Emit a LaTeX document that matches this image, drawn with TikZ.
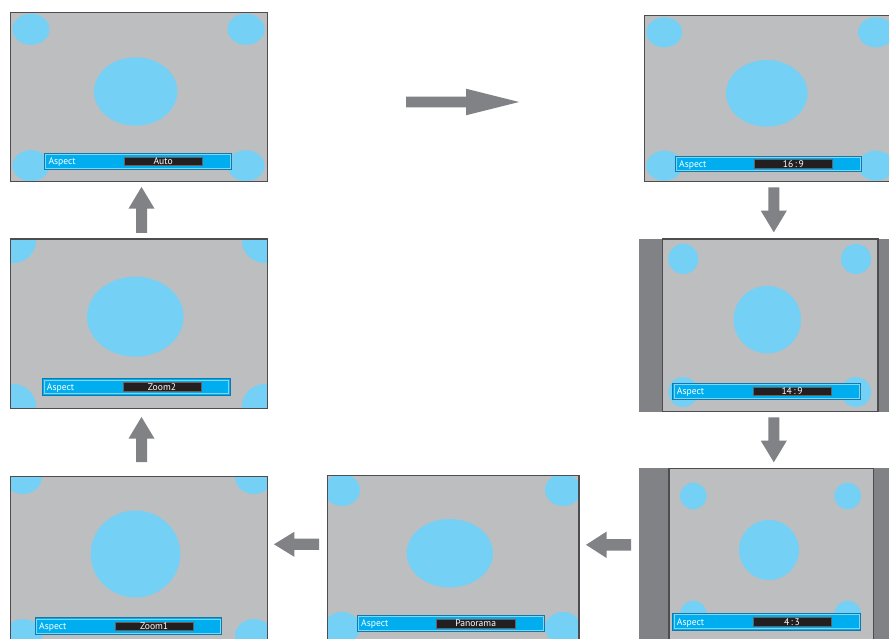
\documentclass[tikz,border=0pt]{standalone}
\usepackage{fontspec}
\setmainfont{PT Sans}
\usetikzlibrary{calc}
\definecolor{screengray}{RGB}{188,190,192}
\definecolor{framegray}{RGB}{77,77,79}
\definecolor{spotblue}{RGB}{117,208,246}
\definecolor{barcyan}{RGB}{0,174,239}
\definecolor{barlight}{RGB}{128,214,246}
\definecolor{baredge}{RGB}{20,120,170}
\definecolor{boxblack}{RGB}{35,31,32}
\definecolor{sidegray}{RGB}{128,130,133}
\definecolor{arrowgray}{RGB}{128,130,133}
\tikzset{
  screen/.style={fill=screengray},
  frameline/.style={draw=framegray, line width=1.2pt},
  spot/.style={fill=spotblue},
  sidebar/.style={fill=sidegray},
  valuebox/.style={fill=boxblack, draw=boxblack!70!white, line width=0.4pt},
  bartext/.style={text=white, font=\fontsize{9.6}{11}\selectfont, inner sep=0pt},
  arrowfill/.style={fill=arrowgray},
}
% aspect bar: #1 name, #2 x0, #3 y0, #4 x1, #5 y1, #6 bx0, #7 bx1, #8 value
\newcommand\aspectbar[8]{%
  \draw[draw=baredge, line width=0.5pt, fill=barcyan] (#2,#3) rectangle (#4,#5);
  \draw[draw=barlight, line width=0.9pt] ({#2+1.3},{#3+1.3}) rectangle ({#4-1.3},{#5-1.3});
  \path[valuebox] (#6,{(#3+#5)/2-4.2}) rectangle (#7,{(#3+#5)/2+4.2});
  \node[bartext, anchor=base west] (#1l) at ({#2+4},{(#3+#5)/2+3.4}) {Aspect};
  \node[bartext, anchor=base] (#1v) at ({(#6+#7)/2},{(#3+#5)/2+3.4}) {#8};
}
% block arrow: #1 from, #2 to, #3 head length, #4 head half width, #5 shaft half width
\newcommand\blockarrow[5]{%
  \path ($(#2)!#3!(#1)$) coordinate (hb);
  \fill[arrowfill] ($(#1)!#5!90:(#2)$) -- ($(hb)!#5!90:(#2)$) -- ($(hb)!#4!90:(#2)$)
    -- (#2) -- ($(hb)!#4!-90:(#2)$) -- ($(hb)!#5!-90:(#2)$) -- ($(#1)!#5!-90:(#2)$) -- cycle;
}
\begin{document}
\begin{tikzpicture}[x=1pt, y=-1pt]
\useasboundingbox (0,0) rectangle (889,639);
\clip (0,0) rectangle (889,639);
\fill[white] (0,0) rectangle (889,639);

% ---------- Panel 1: Auto ----------
\begin{scope}
  \clip (10.3,12.7) rectangle (267.3,181.7);
  \fill[screen] (10.3,12.7) rectangle (267.3,181.7);
  \fill[spot] (31,29.3) ellipse [x radius=18.5pt, y radius=15.5pt];
  \fill[spot] (246,29.3) ellipse [x radius=18.5pt, y radius=15.5pt];
  \fill[spot] (31,165.7) ellipse [x radius=18.5pt, y radius=15.5pt];
  \fill[spot] (246,165.7) ellipse [x radius=18.5pt, y radius=15.5pt];
  \fill[spot] (135.7,91.5) ellipse [x radius=41.7pt, y radius=34.2pt];
\end{scope}
\draw[frameline] (10.3,12.7) rectangle (267.3,181.7);
\aspectbar{auto}{44.3}{153.3}{231.3}{169.3}{124}{202.3}{Auto}

% ---------- Panel 2: 16:9 ----------
\begin{scope}
  \clip (644.7,15.7) rectangle (896,181.7);
  \fill[screen] (644.7,15.7) rectangle (896,181.7);
  \fill[spot] (664.3,32.3) ellipse [x radius=18pt, y radius=15pt];
  \fill[spot] (876,32.3) ellipse [x radius=18pt, y radius=15pt];
  \fill[spot] (664.3,165.7) ellipse [x radius=18pt, y radius=15pt];
  \fill[spot] (876,165.7) ellipse [x radius=18pt, y radius=15pt];
  \fill[spot] (766.8,93.3) ellipse [x radius=40.8pt, y radius=33.3pt];
\end{scope}
\draw[frameline] (644.7,15.7) rectangle (896,181.7);
\aspectbar{wide}{675}{156}{861.7}{171.7}{754.3}{832.3}{16\,:\,9}

% ---------- Panel 3: 14:9 ----------
\fill[sidebar] (639,239) rectangle (901,411.7);
\begin{scope}
  \clip (662.3,239) rectangle (878,411.7);
  \fill[screen] (662.3,239) rectangle (878,411.7);
  \fill[spot] (683.3,259) circle [radius=15pt];
  \fill[spot] (856,259) circle [radius=15pt];
  \fill[spot] (683.3,392) circle [radius=15pt];
  \fill[spot] (856,392) circle [radius=15pt];
  \fill[spot] (767.3,319.7) circle [radius=33.7pt];
\end{scope}
\draw[frameline] (662.3,239) rectangle (878,411.7);
\aspectbar{fourteen}{672.7}{383.3}{860.7}{399.3}{752.7}{831.3}{14\,:\,9}

% ---------- Panel 4: 4:3 ----------
\fill[sidebar] (639,468.3) rectangle (901,645);
\begin{scope}
  \clip (669,468.3) rectangle (873.7,645);
  \fill[screen] (669,468.3) rectangle (873.7,645);
  \fill[spot] (693.3,496) circle [radius=13.3pt];
  \fill[spot] (847.7,496) circle [radius=13.3pt];
  \fill[spot] (693.3,614) circle [radius=13.3pt];
  \fill[spot] (847.7,614) circle [radius=13.3pt];
  \fill[spot] (769,550) circle [radius=30pt];
\end{scope}
\draw[frameline] (669,468.3) rectangle (873.7,645);
\aspectbar{four}{672.7}{613.3}{860.7}{630}{752.7}{831.3}{4\,:\,3}

% ---------- Panel 5: Panorama ----------
\begin{scope}
  \clip (327.3,475.7) rectangle (579,646);
  \fill[screen] (327.3,475.7) rectangle (579,646);
  \fill[spot] (342,490) ellipse [x radius=18pt, y radius=16pt];
  \fill[spot] (563,490) ellipse [x radius=18pt, y radius=16pt];
  \fill[spot] (342,628) ellipse [x radius=18pt, y radius=16pt];
  \fill[spot] (563,628) ellipse [x radius=18pt, y radius=16pt];
  \fill[spot] (449.8,553.2) ellipse [x radius=43.2pt, y radius=34.2pt];
\end{scope}
\draw[frameline] (327.3,475.7) rectangle (579,646);
\aspectbar{pano}{357}{615.3}{544.3}{631.7}{436.3}{515}{Panorama}

% ---------- Panel 6: Zoom1 ----------
\begin{scope}
  \clip (10.7,476.7) rectangle (267.3,646);
  \fill[screen] (10.7,476.7) rectangle (267.3,646);
  \fill[spot] (23,477) ellipse [x radius=19pt, y radius=17pt];
  \fill[spot] (254,477) ellipse [x radius=19pt, y radius=17pt];
  \fill[spot] (23,636) ellipse [x radius=19pt, y radius=17pt];
  \fill[spot] (254,636) ellipse [x radius=19pt, y radius=17pt];
  \fill[spot] (135.5,554) ellipse [x radius=44.8pt, y radius=43.5pt];
\end{scope}
\draw[frameline] (10.7,476.7) rectangle (267.3,646);
\aspectbar{zoomone}{35}{617.7}{221.7}{634.3}{115}{193.3}{Zoom1}

% ---------- Panel 7: Zoom2 ----------
\begin{scope}
  \clip (10.7,239) rectangle (267.3,408.3);
  \fill[screen] (10.7,239) rectangle (267.3,408.3);
  \fill[spot] (13,241) ellipse [x radius=23pt, y radius=22pt];
  \fill[spot] (265,241) ellipse [x radius=23pt, y radius=22pt];
  \fill[spot] (13,406) ellipse [x radius=23pt, y radius=22pt];
  \fill[spot] (265,406) ellipse [x radius=23pt, y radius=22pt];
  \fill[spot] (135.3,316.7) ellipse [x radius=48.3pt, y radius=40pt];
\end{scope}
\draw[frameline] (10.7,239) rectangle (267.3,408.3);
\aspectbar{zoomtwo}{42.7}{378.7}{230}{395}{122.7}{201.3}{Zoom2}

% ---------- Arrows ----------
\coordinate (a1s) at (406,102);    \coordinate (a1e) at (519,102);
\coordinate (a2s) at (773.8,187.3); \coordinate (a2e) at (773.8,232.3);
\coordinate (a3s) at (773.8,417.3); \coordinate (a3e) at (773.8,462.3);
\coordinate (a4s) at (631,544.8);  \coordinate (a4e) at (586,544.8);
\coordinate (a5s) at (319,544.3);  \coordinate (a5e) at (274,544.3);
\coordinate (a6s) at (141.5,462);  \coordinate (a6e) at (141.5,417);
\coordinate (a7s) at (141.5,233);  \coordinate (a7e) at (141.5,187);
\blockarrow{a1s}{a1e}{53pt}{13.3pt}{5.3pt}
\blockarrow{a2s}{a2e}{21.6pt}{13pt}{5.5pt}
\blockarrow{a3s}{a3e}{21.6pt}{13pt}{5.5pt}
\blockarrow{a4s}{a4e}{20.7pt}{13.3pt}{5.8pt}
\blockarrow{a5s}{a5e}{20.3pt}{12.5pt}{5.6pt}
\blockarrow{a6s}{a6e}{21.6pt}{13pt}{5.5pt}
\blockarrow{a7s}{a7e}{21.6pt}{13pt}{5.5pt}
\end{tikzpicture}
\end{document}
